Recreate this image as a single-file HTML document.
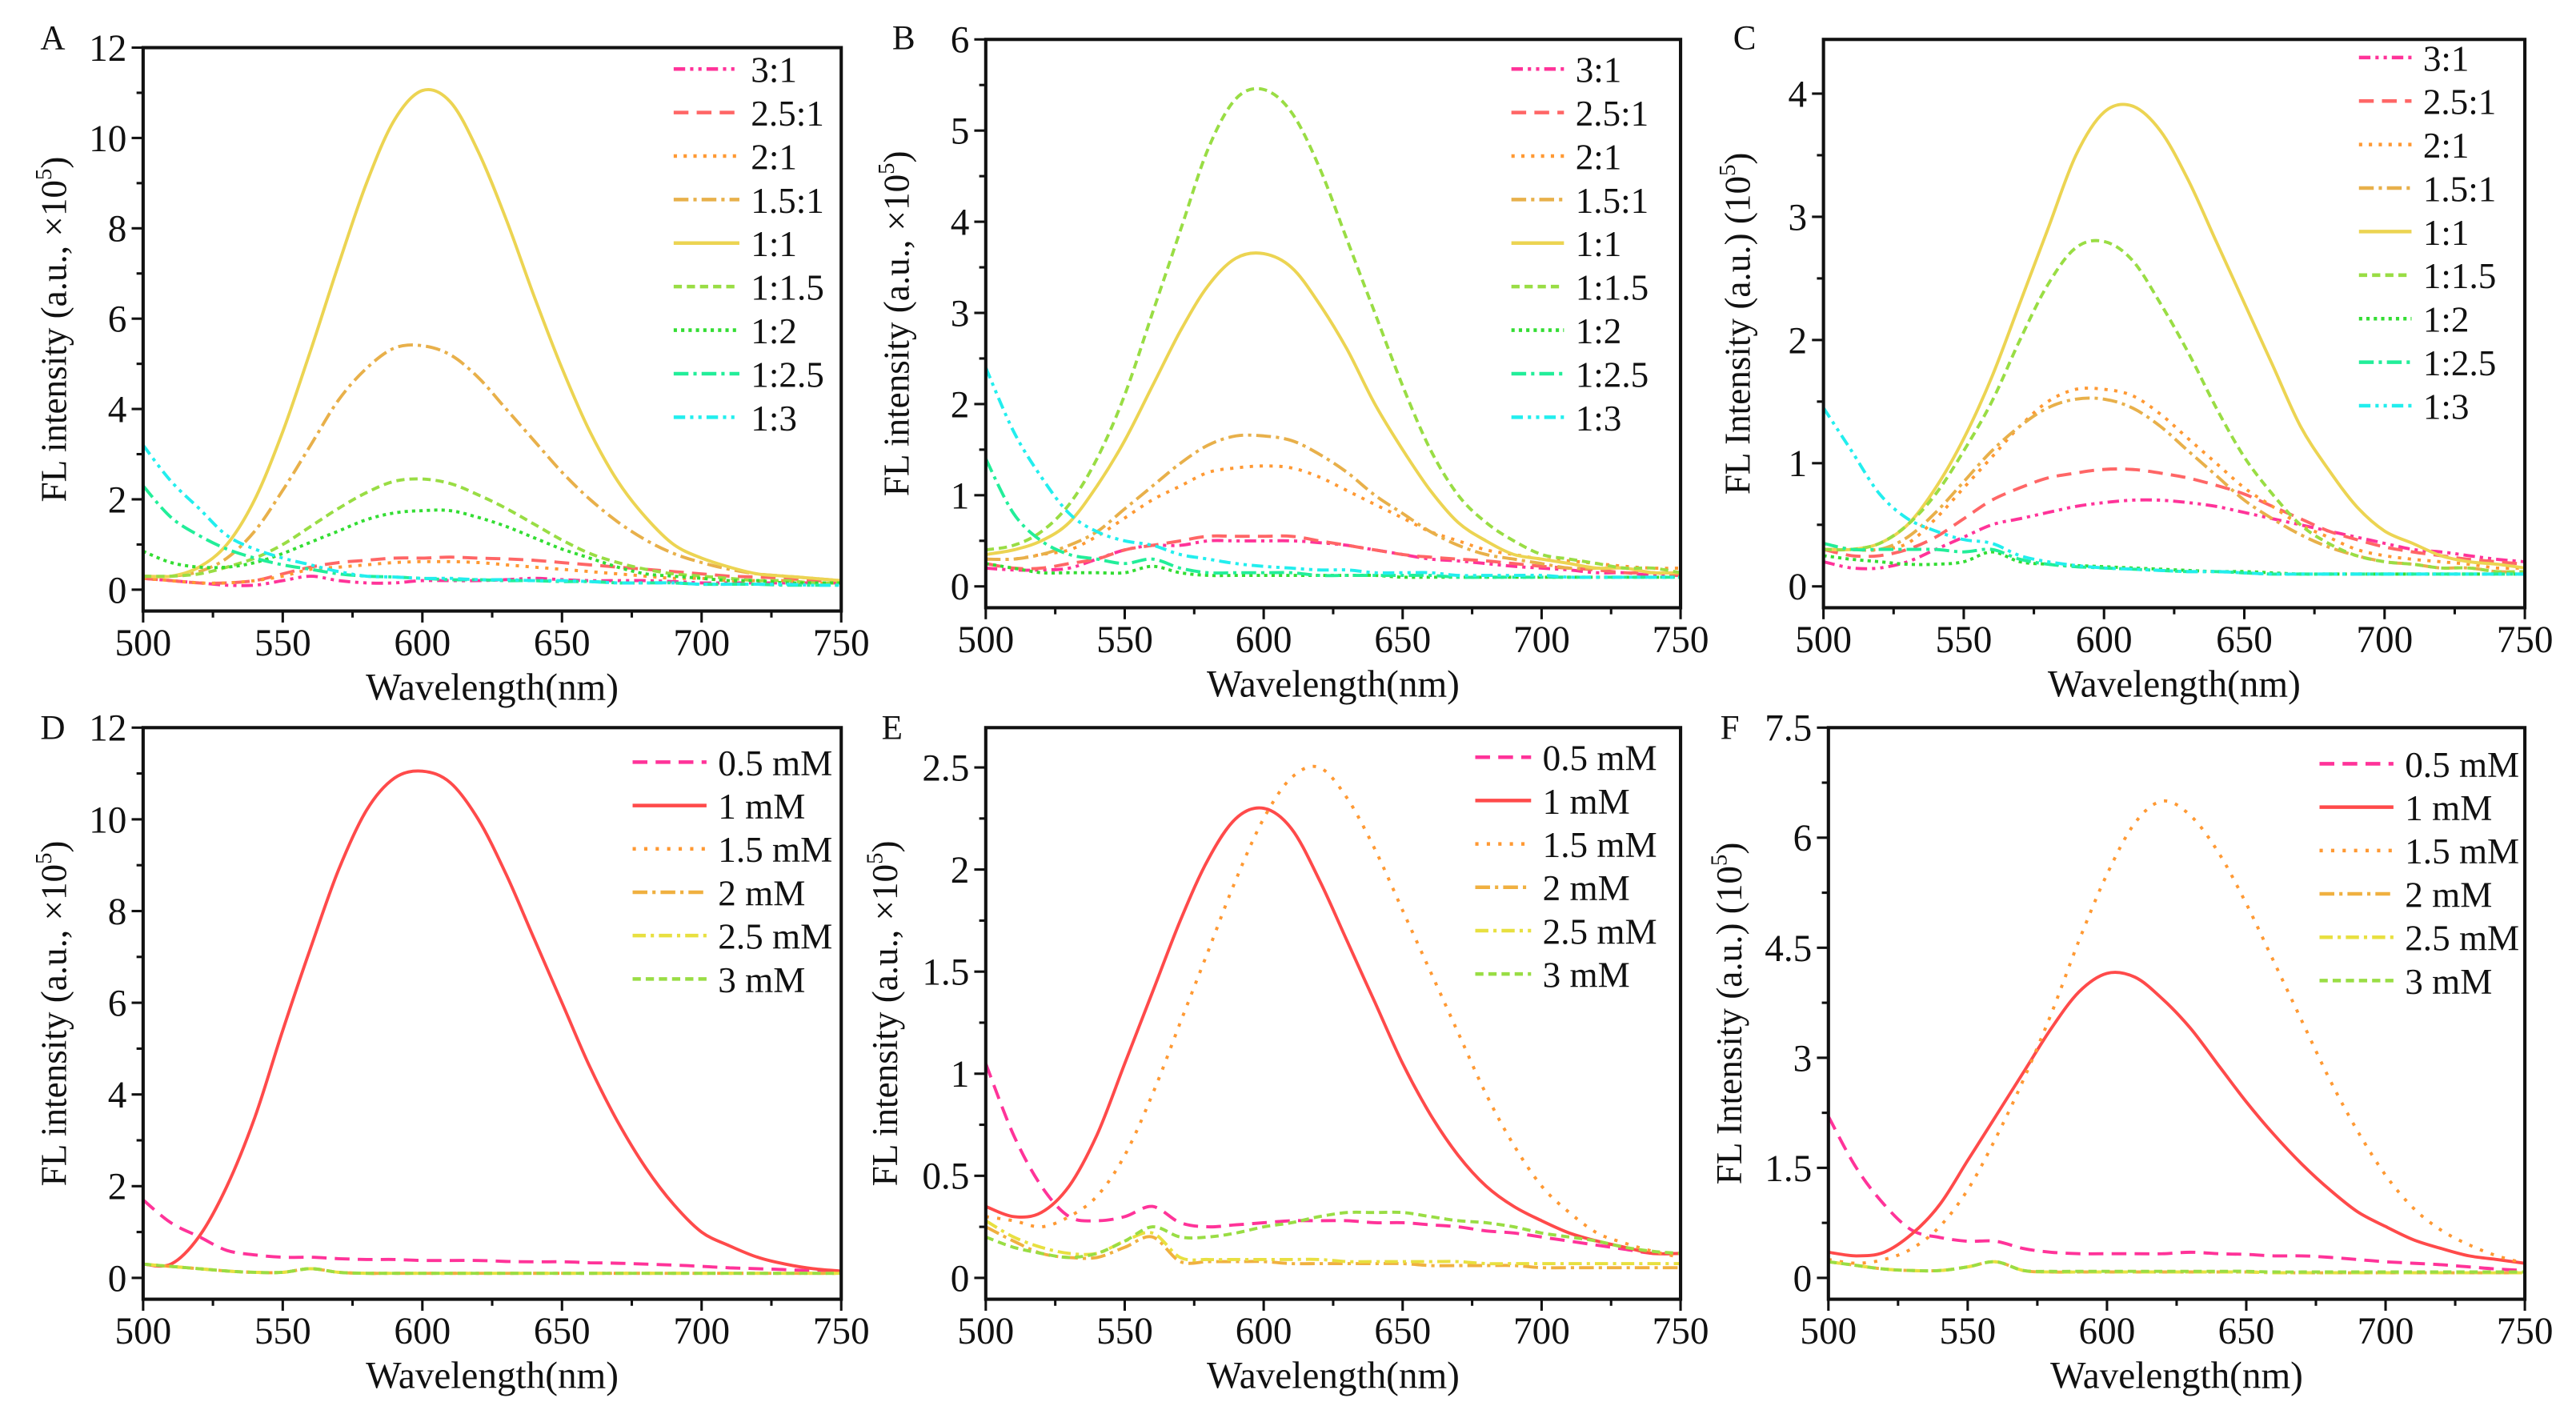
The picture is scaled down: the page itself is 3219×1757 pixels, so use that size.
<!DOCTYPE html>
<html><head><meta charset="utf-8"><style>
html,body{margin:0;padding:0;background:#fff}
svg{display:block}
svg text{font-family:'Liberation Serif','DejaVu Serif','Times New Roman',serif;fill:#111}
</style></head><body>
<svg id="fig" width="3219" height="1757" viewBox="0 0 1568 856" font-family="Liberation Serif, DejaVu Serif, serif" xmlns="http://www.w3.org/2000/svg"></svg>
<script>
const wavelengths=[500,510,520,530,540,550,560,570,580,590,600,610,620,630,640,650,660,670,680,690,700,710,720,730,740,750];
const ratioLabels=["3:1","2.5:1","2:1","1.5:1","1:1","1:1.5","1:2","1:2.5","1:3"];
const concLabels=["0.5 mM","1 mM","1.5 mM","2 mM","2.5 mM","3 mM"];
const seriesA=[
[0.25,0.2,0.15,0.1,0.1,0.2,0.3,0.2,0.15,0.15,0.2,0.2,0.2,0.22,0.25,0.22,0.2,0.2,0.2,0.18,0.15,0.15,0.15,0.15,0.15,0.15],
[0.25,0.2,0.15,0.15,0.2,0.35,0.5,0.6,0.65,0.7,0.7,0.72,0.7,0.68,0.65,0.6,0.55,0.5,0.45,0.4,0.35,0.3,0.28,0.25,0.2,0.2],
[0.25,0.2,0.15,0.15,0.2,0.3,0.45,0.5,0.55,0.6,0.62,0.62,0.6,0.55,0.5,0.45,0.4,0.35,0.3,0.25,0.25,0.2,0.2,0.2,0.15,0.15],
[0.3,0.3,0.4,0.7,1.3,2.2,3.2,4.2,4.9,5.35,5.4,5.2,4.7,4.0,3.3,2.6,2.0,1.5,1.1,0.8,0.6,0.45,0.35,0.3,0.25,0.2],
[0.3,0.3,0.5,1.0,2.0,3.5,5.3,7.2,9.0,10.4,11.05,10.8,9.7,8.2,6.5,4.9,3.5,2.4,1.6,1.0,0.7,0.5,0.35,0.3,0.25,0.2],
[0.3,0.3,0.35,0.5,0.7,1.0,1.4,1.8,2.15,2.4,2.45,2.35,2.1,1.8,1.45,1.1,0.8,0.6,0.45,0.35,0.3,0.25,0.2,0.2,0.15,0.15],
[0.85,0.6,0.5,0.5,0.6,0.8,1.05,1.3,1.55,1.7,1.75,1.75,1.6,1.4,1.15,0.9,0.7,0.5,0.35,0.3,0.25,0.2,0.2,0.15,0.15,0.15],
[2.3,1.6,1.2,0.9,0.7,0.55,0.45,0.35,0.3,0.28,0.25,0.22,0.22,0.2,0.2,0.18,0.18,0.15,0.15,0.15,0.12,0.12,0.12,0.1,0.1,0.1],
[3.2,2.4,1.8,1.2,0.9,0.7,0.55,0.4,0.3,0.28,0.25,0.25,0.22,0.22,0.2,0.2,0.18,0.15,0.15,0.15,0.12,0.12,0.12,0.12,0.1,0.1]];
const seriesB=[
[0.2,0.18,0.18,0.2,0.3,0.4,0.45,0.45,0.5,0.5,0.5,0.5,0.48,0.45,0.4,0.35,0.3,0.28,0.25,0.22,0.2,0.18,0.15,0.15,0.12,0.12],
[0.25,0.2,0.2,0.25,0.3,0.4,0.45,0.5,0.55,0.55,0.55,0.55,0.5,0.45,0.4,0.35,0.32,0.3,0.28,0.25,0.22,0.2,0.18,0.15,0.15,0.12],
[0.3,0.3,0.35,0.4,0.55,0.75,0.95,1.1,1.25,1.3,1.32,1.3,1.2,1.05,0.9,0.75,0.6,0.5,0.4,0.35,0.3,0.28,0.25,0.22,0.2,0.2],
[0.3,0.3,0.35,0.45,0.6,0.85,1.1,1.35,1.55,1.65,1.65,1.6,1.45,1.25,1.0,0.8,0.6,0.45,0.35,0.3,0.25,0.2,0.2,0.2,0.15,0.15],
[0.35,0.4,0.5,0.7,1.1,1.6,2.2,2.8,3.3,3.6,3.65,3.5,3.1,2.6,2.0,1.5,1.05,0.7,0.5,0.35,0.3,0.25,0.2,0.2,0.15,0.15],
[0.4,0.45,0.6,0.9,1.4,2.1,3.0,3.9,4.8,5.35,5.45,5.2,4.6,3.8,3.0,2.2,1.5,1.0,0.7,0.5,0.35,0.3,0.25,0.2,0.2,0.15],
[0.25,0.2,0.15,0.15,0.15,0.15,0.22,0.15,0.12,0.12,0.12,0.12,0.12,0.12,0.12,0.1,0.1,0.1,0.1,0.1,0.1,0.1,0.1,0.1,0.1,0.1],
[1.4,0.8,0.5,0.35,0.3,0.25,0.3,0.2,0.15,0.15,0.15,0.15,0.12,0.12,0.12,0.12,0.12,0.1,0.1,0.1,0.1,0.1,0.1,0.1,0.1,0.1],
[2.4,1.7,1.2,0.8,0.6,0.5,0.45,0.35,0.3,0.25,0.22,0.2,0.18,0.18,0.15,0.15,0.15,0.12,0.12,0.12,0.12,0.1,0.1,0.1,0.1,0.1]];
const seriesC=[
[0.2,0.15,0.15,0.2,0.3,0.4,0.5,0.55,0.6,0.65,0.68,0.7,0.7,0.68,0.65,0.6,0.55,0.5,0.45,0.4,0.35,0.3,0.28,0.25,0.22,0.2],
[0.3,0.25,0.25,0.3,0.4,0.55,0.7,0.8,0.88,0.92,0.95,0.95,0.92,0.88,0.82,0.75,0.65,0.55,0.45,0.38,0.32,0.28,0.25,0.22,0.2,0.18],
[0.35,0.3,0.3,0.35,0.55,0.8,1.05,1.3,1.5,1.6,1.6,1.55,1.4,1.2,1.0,0.8,0.65,0.5,0.4,0.3,0.25,0.22,0.2,0.18,0.15,0.15],
[0.3,0.3,0.3,0.4,0.6,0.85,1.1,1.3,1.45,1.52,1.52,1.45,1.3,1.1,0.9,0.7,0.55,0.42,0.32,0.25,0.2,0.18,0.15,0.15,0.12,0.12],
[0.3,0.3,0.35,0.5,0.8,1.2,1.7,2.3,2.9,3.5,3.85,3.9,3.7,3.3,2.8,2.3,1.8,1.3,0.95,0.65,0.45,0.35,0.25,0.2,0.18,0.15],
[0.3,0.3,0.35,0.5,0.75,1.1,1.5,2.0,2.45,2.75,2.8,2.65,2.3,1.9,1.45,1.05,0.75,0.5,0.35,0.25,0.2,0.18,0.15,0.15,0.12,0.12],
[0.25,0.22,0.2,0.18,0.18,0.2,0.28,0.2,0.18,0.17,0.16,0.15,0.14,0.13,0.12,0.12,0.11,0.1,0.1,0.1,0.1,0.1,0.1,0.1,0.1,0.1],
[0.35,0.3,0.3,0.3,0.3,0.28,0.3,0.22,0.18,0.16,0.15,0.14,0.13,0.12,0.12,0.11,0.1,0.1,0.1,0.1,0.1,0.1,0.1,0.1,0.1,0.1],
[1.45,1.1,0.75,0.55,0.45,0.38,0.35,0.25,0.2,0.17,0.15,0.14,0.13,0.12,0.12,0.11,0.1,0.1,0.1,0.1,0.1,0.1,0.1,0.1,0.1,0.1]];
const seriesD=[
[1.7,1.2,0.9,0.6,0.5,0.45,0.45,0.42,0.4,0.4,0.38,0.38,0.38,0.36,0.35,0.35,0.33,0.32,0.3,0.28,0.25,0.22,0.2,0.18,0.15,0.12],
[0.3,0.3,0.9,2.0,3.5,5.4,7.2,8.9,10.2,10.9,11.05,10.8,10.0,8.8,7.4,6.0,4.6,3.4,2.4,1.6,1.0,0.7,0.45,0.3,0.2,0.15],
[0.3,0.25,0.2,0.15,0.12,0.12,0.2,0.12,0.1,0.1,0.1,0.1,0.1,0.1,0.1,0.1,0.1,0.1,0.1,0.1,0.1,0.1,0.1,0.1,0.1,0.1],
[0.3,0.25,0.2,0.15,0.12,0.12,0.2,0.12,0.1,0.1,0.1,0.1,0.1,0.1,0.1,0.1,0.1,0.1,0.1,0.1,0.1,0.1,0.1,0.1,0.1,0.1],
[0.3,0.25,0.2,0.15,0.12,0.12,0.2,0.12,0.1,0.1,0.1,0.1,0.1,0.1,0.1,0.1,0.1,0.1,0.1,0.1,0.1,0.1,0.1,0.1,0.1,0.1],
[0.3,0.25,0.2,0.15,0.12,0.12,0.2,0.12,0.1,0.1,0.1,0.1,0.1,0.1,0.1,0.1,0.1,0.1,0.1,0.1,0.1,0.1,0.1,0.1,0.1,0.1]];
const seriesE=[
[1.05,0.7,0.45,0.3,0.28,0.3,0.35,0.27,0.25,0.26,0.27,0.28,0.28,0.28,0.27,0.27,0.26,0.25,0.23,0.22,0.2,0.18,0.16,0.14,0.12,0.12],
[0.35,0.3,0.32,0.45,0.7,1.05,1.4,1.75,2.05,2.25,2.3,2.2,1.95,1.65,1.35,1.05,0.8,0.6,0.45,0.35,0.28,0.22,0.18,0.15,0.12,0.12],
[0.3,0.28,0.25,0.3,0.4,0.6,0.9,1.25,1.6,1.95,2.25,2.45,2.5,2.35,2.1,1.8,1.5,1.2,0.9,0.65,0.45,0.32,0.22,0.17,0.13,0.1],
[0.25,0.18,0.12,0.1,0.1,0.15,0.2,0.08,0.08,0.08,0.08,0.07,0.07,0.07,0.07,0.07,0.06,0.06,0.06,0.06,0.05,0.05,0.05,0.05,0.05,0.05],
[0.28,0.2,0.15,0.12,0.12,0.18,0.22,0.1,0.09,0.09,0.09,0.09,0.09,0.08,0.08,0.08,0.08,0.08,0.07,0.07,0.07,0.07,0.07,0.07,0.07,0.07],
[0.2,0.15,0.12,0.1,0.12,0.18,0.25,0.2,0.2,0.22,0.25,0.27,0.3,0.32,0.32,0.32,0.3,0.28,0.27,0.25,0.22,0.2,0.18,0.15,0.13,0.12]];
const seriesF=[
[2.2,1.5,1.0,0.65,0.55,0.5,0.5,0.4,0.35,0.33,0.33,0.33,0.33,0.35,0.33,0.32,0.3,0.3,0.28,0.25,0.22,0.2,0.18,0.15,0.12,0.1],
[0.35,0.3,0.35,0.6,1.0,1.6,2.2,2.8,3.4,3.9,4.15,4.1,3.8,3.4,2.9,2.4,1.95,1.55,1.2,0.9,0.7,0.52,0.4,0.3,0.25,0.2],
[0.25,0.2,0.25,0.4,0.7,1.2,1.9,2.7,3.6,4.6,5.5,6.2,6.5,6.3,5.8,5.1,4.3,3.5,2.7,2.0,1.4,0.95,0.65,0.45,0.3,0.2],
[0.22,0.17,0.12,0.1,0.1,0.15,0.22,0.1,0.08,0.08,0.08,0.08,0.08,0.08,0.08,0.08,0.07,0.07,0.07,0.07,0.07,0.07,0.07,0.07,0.07,0.07],
[0.22,0.17,0.12,0.1,0.1,0.15,0.22,0.1,0.08,0.08,0.08,0.08,0.08,0.08,0.08,0.08,0.07,0.07,0.07,0.07,0.07,0.07,0.07,0.07,0.07,0.07],
[0.22,0.17,0.12,0.1,0.1,0.15,0.22,0.1,0.09,0.09,0.09,0.09,0.09,0.09,0.09,0.09,0.08,0.08,0.08,0.08,0.08,0.08,0.08,0.08,0.08,0.08]];
const xTicks=[500,550,600,650,700,750];
const yTicksA=[0,2,4,6,8,10,12];
const yTicksB=[0,1,2,3,4,5,6];
const yTicksC=[0,1,2,3,4];
const yTicksD=[0,2,4,6,8,10,12];
const yTicksE=[0,0.5,1,1.5,2,2.5];
const yTicksF=[0,1.5,3,4.5,6,7.5];

const NS="http://www.w3.org/2000/svg";
const svg=document.getElementById('fig');
const FONT="Liberation Serif, DejaVu Serif, serif";
function mk(tag,attrs,parent){const e=document.createElementNS(NS,tag);for(const k in attrs)e.setAttribute(k,attrs[k]);if(tag==='text')e.setAttribute('font-family',FONT);(parent||svg).appendChild(e);return e;}
const ratioStyles=[["#ff3399","7,3,2,3,2,3"],["#ff6666","9,5"],["#ff9933","2,4"],["#e8b04a","9,3,2,3"],["#ecd452",""],["#99dd44","5,3"],["#33dd33","2,2.5"],["#22ee99","9,3,2,3"],["#22eeee","7,3,2,3,2,3"]];
const concStyles=[["#ff3399","9,5"],["#ff4a4a",""],["#ff9933","2,5"],["#f0b040","9,3,2,3"],["#e8e040","8,3,2,3"],["#99dd44","5,3"]];

function smoothPath(pts){
  let d='M'+pts[0][0].toFixed(1)+','+pts[0][1].toFixed(1);
  for(let i=0;i<pts.length-1;i++){
    const p0=pts[Math.max(0,i-1)],p1=pts[i],p2=pts[i+1],p3=pts[Math.min(pts.length-1,i+2)];
    const c1x=p1[0]+(p2[0]-p0[0])/6,c1y=p1[1]+(p2[1]-p0[1])/6;
    const c2x=p2[0]-(p3[0]-p1[0])/6,c2y=p2[1]-(p3[1]-p1[1])/6;
    d+=' C'+c1x.toFixed(1)+','+c1y.toFixed(1)+' '+c2x.toFixed(1)+','+c2y.toFixed(1)+' '+p2[0].toFixed(1)+','+p2[1].toFixed(1);
  }
  return d;
}

const panels=[
{id:"a",letter:"A",x0:87,x1:512,yTop:29,yZero:359,yMax:12,ticks:yTicksA,minor:1,data:seriesA,labels:ratioLabels,styles:ratioStyles,ylab:"FL intensity (a.u., ×10",yl:")",lx:410,ly:42,dy:26.5,lw:40,lab:[32,30],ylx:40},
{id:"b",letter:"B",x0:600,x1:1023,yTop:24,yZero:357,yMax:6,ticks:yTicksB,minor:0.5,data:seriesB,labels:ratioLabels,styles:ratioStyles,ylab:"FL  intensity (a.u., ×10",yl:")",lx:920,ly:42,dy:26.5,lw:32,lab:[550,30],ylx:553},
{id:"c",letter:"C",x0:1110,x1:1537,yTop:24,yZero:357,yMax:4.44,ticks:yTicksC,minor:0.5,data:seriesC,labels:ratioLabels,styles:ratioStyles,ylab:"FL Intensity (a.u.) (10",yl:")",lx:1436,ly:35,dy:26.5,lw:32,lab:[1062,30],ylx:1065},
{id:"d",letter:"D",x0:87,x1:512,yTop:443,yZero:778,yMax:12,ticks:yTicksD,minor:1,data:seriesD,labels:concLabels,styles:concStyles,ylab:"FL intensity (a.u., ×10",yl:")",lx:385,ly:464,dy:26.4,lw:45,lab:[32,450],ylx:40},
{id:"e",letter:"E",x0:600,x1:1023,yTop:443,yZero:778,yMax:2.695,ticks:yTicksE,minor:0.25,data:seriesE,labels:concLabels,styles:concStyles,ylab:"FL intensity (a.u., ×10",yl:")",lx:898,ly:461,dy:26.4,lw:34,lab:[543,450],ylx:546},
{id:"f",letter:"F",x0:1113,x1:1537,yTop:443,yZero:778,yMax:7.5,ticks:yTicksF,minor:0.75,data:seriesF,labels:concLabels,styles:concStyles,ylab:"FL Intensity (a.u.) (10",yl:")",lx:1412,ly:465,dy:26.4,lw:45,lab:[1053,450],ylx:1060}
];

panels.forEach(p=>{
  const g=mk('g',{});
  
  
  const yBot=p.yZero+13;
  const sx=v=>p.x0+(v-500)/250*(p.x1-p.x0);
  const sy=v=>p.yZero-v/p.yMax*(p.yZero-p.yTop);
  p.data.forEach((vals,i)=>{
    const pts=vals.map((v,j)=>[sx(wavelengths[j]),sy(v)]);
    const path=mk('path',{d:smoothPath(pts),fill:'none',stroke:p.styles[i][0],'stroke-width':1.9,'stroke-dasharray':p.styles[i][1],'stroke-linejoin':'round'},g);
    
    
  });
  const fr=mk('rect',{x:p.x0,y:p.yTop,width:p.x1-p.x0,height:yBot-p.yTop,fill:'none',stroke:'#111','stroke-width':2},g);
  
  
  for(let w=500;w<=750;w+=25){
    const major=(w%50===0);
    mk('line',{x1:sx(w),x2:sx(w),y1:yBot,y2:yBot+(major?7:4),stroke:'#111','stroke-width':1.5},g);
  }
  xTicks.forEach(t=>{
    const tx=mk('text',{x:sx(t),y:yBot+27,'text-anchor':'middle','font-size':23},g);
    tx.textContent=t;
    
    
  });
  for(let v=0;v<=p.yMax+1e-6;v+=p.minor){
    const major=p.ticks.some(t=>Math.abs(t-v)<1e-6);
    mk('line',{x1:p.x0,x2:p.x0-(major?7:4),y1:sy(v),y2:sy(v),stroke:'#111','stroke-width':1.5},g);
  }
  p.ticks.forEach(t=>{
    const tx=mk('text',{x:p.x0-10,y:sy(t)+8,'text-anchor':'end','font-size':23},g);
    tx.textContent=t;
    
    
  });
  const xt=mk('text',{x:(p.x0+p.x1)/2,y:yBot+54,'text-anchor':'middle','font-size':23},g);
  xt.textContent='Wavelength(nm)';
  
  
  const cy=(p.yTop+yBot)/2;
  const yt=mk('text',{x:p.ylx,y:cy,'text-anchor':'middle','font-size':22,transform:'rotate(-90 '+p.ylx+' '+cy+')'},g);
  
  
  yt.appendChild(document.createTextNode(p.ylab));
  const ts=mk('tspan',{'font-size':14,dy:-9},yt);ts.textContent='5';
  const te=mk('tspan',{dy:9},yt);te.textContent=p.yl;
  const lt=mk('text',{x:p.lab[0],y:p.lab[1],'font-size':21,'text-anchor':'middle'},g);
  lt.textContent=p.letter;
  
  
  p.labels.forEach((l,i)=>{
    const y=p.ly+i*p.dy;
    const lg=mk('g',{},g);
    
    
    mk('line',{x1:p.lx,x2:p.lx+p.lw,y1:y,y2:y,stroke:p.styles[i][0],'stroke-width':2.2,'stroke-dasharray':p.styles[i][1]},lg);
    const t=mk('text',{x:p.lx+p.lw+7,y:y+8,'font-size':22},lg);
    t.textContent=l;
  });
});
</script>
</body></html>
